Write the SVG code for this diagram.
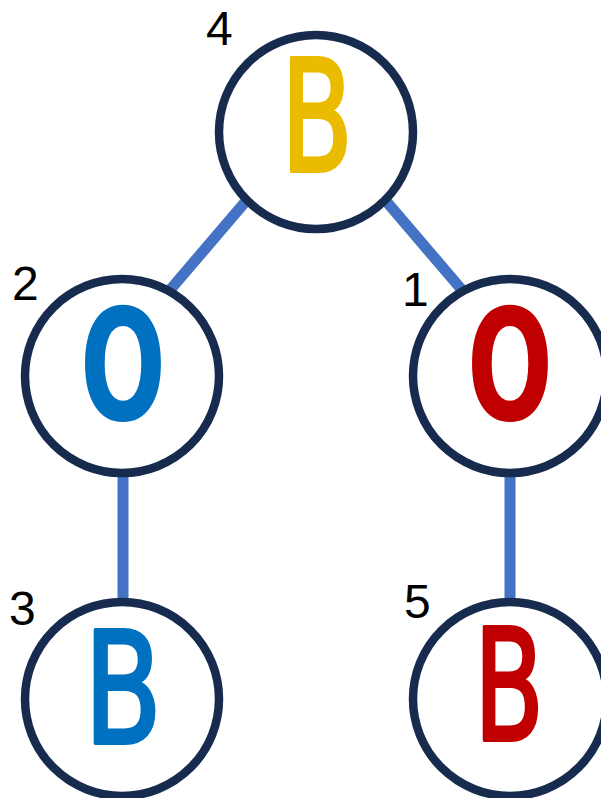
<svg xmlns="http://www.w3.org/2000/svg" width="601" height="798" viewBox="0 0 601 798">
<style>
.node circle{fill:#ffffff;stroke:#172b4f;stroke-width:8.5}
.num{font-family:"Liberation Sans",Arial,sans-serif;font-size:48px;fill:#000000}
.let{font-family:"DejaVu Sans","Liberation Sans",sans-serif;font-size:155px;text-anchor:middle}
.b{font-weight:normal;stroke-width:4;stroke-linejoin:round}
.o{font-weight:bold}
.edge{stroke:#4472c4;stroke-width:11;fill:none}
</style>
<rect width="601" height="798" fill="#ffffff"/>
<g id="connectors">
<line class="edge" x1="252" y1="194" x2="170" y2="290"/>
<line class="edge" x1="380" y1="194" x2="462" y2="290"/>
<line class="edge" x1="123" y1="470" x2="123" y2="605"/>
<line class="edge" x1="510" y1="470" x2="510" y2="605"/>
</g>
<g id="node4" class="node">
<circle cx="316" cy="132" r="97"/>
<text class="num" x="206" y="45">4</text>
<text class="let b" x="317" y="171" fill="#ebbb00" stroke="#ebbb00" textLength="72" lengthAdjust="spacingAndGlyphs">B</text>
</g>
<g id="node2" class="node">
<circle cx="122" cy="376" r="97"/>
<text class="num" x="12" y="300">2</text>
<text class="let o" x="123" y="420" fill="#0070c0" textLength="86" lengthAdjust="spacingAndGlyphs">O</text>
</g>
<g id="node1" class="node">
<circle cx="510" cy="376" r="97"/>
<text class="num" x="402" y="306">1</text>
<text class="let o" x="510" y="420" fill="#c00000" textLength="86" lengthAdjust="spacingAndGlyphs">O</text>
</g>
<g id="node3" class="node">
<circle cx="122" cy="699" r="97"/>
<text class="num" x="9" y="625">3</text>
<text class="let b" x="123" y="743" fill="#0070c0" stroke="#0070c0" textLength="78" lengthAdjust="spacingAndGlyphs">B</text>
</g>
<g id="node5" class="node">
<circle cx="510" cy="699" r="97"/>
<text class="num" x="404" y="618">5</text>
<text class="let b" x="509" y="740" fill="#c00000" stroke="#c00000" stroke-width="2" textLength="70" lengthAdjust="spacingAndGlyphs">B</text>
</g>
</svg>
